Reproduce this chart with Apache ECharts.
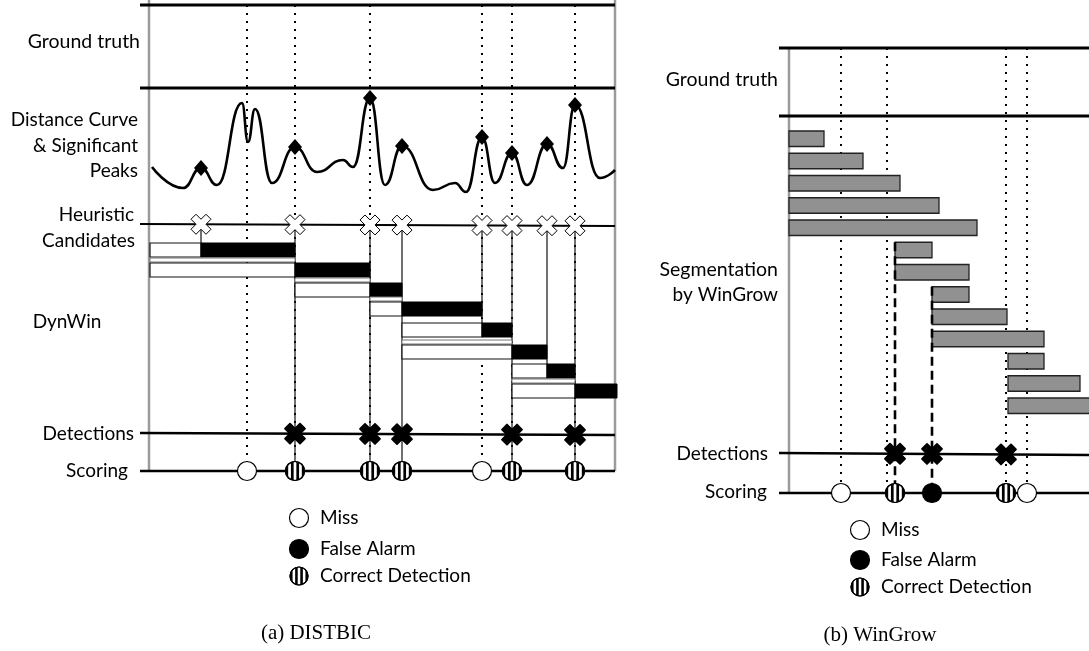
<!DOCTYPE html>
<html>
<head>
<meta charset="utf-8">
<script src="https://cdn.jsdelivr.net/npm/echarts@6/dist/echarts.min.js"></script>
<style>
  html, body { margin: 0; padding: 0; background: #fff; }
  #chart { width: 1089px; height: 651px; }
</style>
</head>
<body>
<div id="chart"></div>
<script>
// ===== (a) DISTBIC — positions along the time axis, in frames =====
const truthA = [98, 146, 221, 333, 363, 426];
// distance curve: [frame, distance]
const distanceCurve = [
  [3, 0.33], [34, 0.12], [52, 0.32], [68, 0.15], [93, 0.97], [99, 0.58],
  [106, 0.91], [123, 0.17], [146, 0.53], [168, 0.28], [194, 0.40], [204, 0.33],
  [221, 1.02], [236, 0.15], [253, 0.54], [284, 0.10], [306, 0.17], [317, 0.08],
  [333, 0.63], [346, 0.17], [363, 0.47], [378, 0.15], [398, 0.56], [414, 0.32],
  [426, 0.95], [451, 0.22], [466, 0.30]
];
const peaksA = [52, 146, 221, 253, 333, 363, 398, 426];
const candidatesA = [52, 146, 221, 253, 333, 363, 398, 426];
// DynWin windows: [start, tested split, end]
const dynWinRows = [
  [1, 52, 146], [1, 146, 221], [146, 221, 253], [221, 253, 333],
  [253, 333, 363], [253, 363, 398], [363, 398, 426], [363, 426, 468]
];
const dynWinGrown = [false, true, true, true, false, true, false, true];
const detectionsA = [146, 221, 253, 363, 426];
const scoringA = [[98, 'miss'], [146, 'hit'], [221, 'hit'], [253, 'hit'], [333, 'miss'], [363, 'hit'], [426, 'hit']];

// ===== (b) WinGrow =====
const truthB = [52, 98, 217, 238];
// growing windows: [start, end]
const winGrowRows = [
  [0, 35], [0, 74], [0, 111], [0, 150], [0, 188],
  [106, 143], [106, 180], [143, 180], [143, 218], [143, 255],
  [219, 255], [219, 291], [219, 305]
];
const detectionsB = [106, 143, 217];
// segment boundaries found by WinGrow: [frame, window row]
const boundariesB = [[106, 5], [143, 7]];
const scoringB = [[52, 'miss'], [106, 'hit'], [143, 'fa'], [217, 'hit'], [238, 'miss']];

// ===== layout =====
const LA = { left: 149, span: 466, gutter: 9, top: 5, gtBottom: 88, heur: [224, 226], det: [433, 435],
  score: 471, borderTop: 0, rightBorder: true,
  rowTops: [243, 263, 283, 302, 323, 345, 364, 384], rowH: 14 };
const LB = { left: 789, span: 300, gutter: 10, top: 48, gtBottom: 116, heur: null, det: [453, 455],
  score: 493, borderTop: 48, rightBorder: false, rowTop0: 131, rowStep: 22.25, rowH: 15.5 };
const FONT = 'Lato, "Open Sans", sans-serif';
const X_PATH = 'path://M2.5,0 L5,2.5 L7.5,0 L10,2.5 L7.5,5 L10,7.5 L7.5,10 L5,7.5 L2.5,10 L0,7.5 L2.5,5 L0,2.5 Z';

function laneY(lane, t, L) {
  if (!Array.isArray(lane)) return lane;
  const f = (t + L.gutter) / (L.span + L.gutter);
  return lane[0] + (lane[1] - lane[0]) * f;
}
function seg(a, b, stroke, w, dash) {
  return { type: 'line', shape: { x1: a[0], y1: a[1], x2: b[0], y2: b[1] },
    style: { stroke: stroke, lineWidth: w, lineDash: dash || null } };
}
function markerShapes(kind, cx, cy, r) {
  const out = [{ type: 'circle', shape: { cx: cx, cy: cy, r: r },
    style: { fill: kind === 'fa' ? '#000' : '#fff', stroke: '#000', lineWidth: 1.2 } }];
  if (kind === 'hit') {
    const n = 7, w = 2 * r / n;
    for (let i = 0; i < n; i += 2) {
      const a = -r + i * w, b = a + w;
      const top = [], bot = [];
      for (let k = 0; k <= 6; k++) {
        const x = a + (b - a) * k / 6;
        const h = Math.sqrt(Math.max(0, r * r - x * x));
        top.push([cx + x, cy - h]);
        bot.unshift([cx + x, cy + h]);
      }
      out.push({ type: 'polygon', shape: { points: top.concat(bot) }, style: { fill: '#000' } });
    }
    out.push({ type: 'circle', shape: { cx: cx, cy: cy, r: r }, style: { fill: 'none', stroke: '#000', lineWidth: 1.2 } });
  }
  return out;
}

// frame: borders and lane lines of one panel
function frameRenderer(L) {
  return function (params, api) {
    const p = (t, y) => api.coord([t, y]);
    const tS = -L.gutter, tE = L.span;
    const ch = [seg(p(0, L.borderTop), p(0, L.score), '#9b9b9b', 2.5)];
    if (L.rightBorder) ch.push(seg(p(tE, L.borderTop), p(tE, L.score), '#9b9b9b', 2.5));
    [[L.top, 3], [L.gtBottom, 3], [L.heur, 2], [L.det, 2.5], [L.score, 2.5]].forEach(function (d) {
      if (d[0] == null) return;
      ch.push(seg(p(tS, laneY(d[0], tS, L)), p(tE, laneY(d[0], tE, L)), '#000', d[1]));
    });
    return { type: 'group', children: ch };
  };
}
function truthRenderer(L) {
  return function (params, api) {
    const t = api.value(0);
    return seg(api.coord([t, L.top]), api.coord([t, L.score]), '#000', 2, [2, 6]);
  };
}
function scoringRenderer(L, list) {
  return function (params, api) {
    const c = api.coord([api.value(0), L.score]);
    return { type: 'group', children: markerShapes(list[params.dataIndex][1], c[0], c[1], 9.5) };
  };
}
const rowTopB = i => LB.rowTop0 + i * LB.rowStep;

const base = { coordinateSystem: 'cartesian2d', silent: true, clip: false, animation: false };
const blackX = { color: '#000', borderColor: '#000', borderWidth: 1.8, borderJoin: 'round', opacity: 1 };

const option = {
  animation: false,
  backgroundColor: '#fff',
  grid: [
    { left: LA.left, top: 0, width: LA.span, height: 651, containLabel: false, outerBoundsMode: 'none' },
    { left: LB.left, top: 0, width: LB.span, height: 651, containLabel: false, outerBoundsMode: 'none' },
    { left: LA.left, top: 90, width: LA.span, height: 110, containLabel: false, outerBoundsMode: 'none' }
  ],
  xAxis: [
    { type: 'value', gridIndex: 0, min: 0, max: LA.span, show: false },
    { type: 'value', gridIndex: 1, min: 0, max: LB.span, show: false },
    { type: 'value', gridIndex: 2, min: 0, max: LA.span, show: false }
  ],
  yAxis: [
    { type: 'value', gridIndex: 0, min: 0, max: 651, inverse: true, show: false },
    { type: 'value', gridIndex: 1, min: 0, max: 651, inverse: true, show: false },
    { type: 'value', gridIndex: 2, min: 0, max: 1.1, show: false }
  ],
  series: [
    // ---------- (a) ----------
    Object.assign({ type: 'custom', name: 'frameA', xAxisIndex: 0, yAxisIndex: 0, z: 1,
      data: [[0, 0]], renderItem: frameRenderer(LA) }, base),
    Object.assign({ type: 'custom', name: 'truthA', xAxisIndex: 0, yAxisIndex: 0, z: 2,
      data: truthA.map(t => [t]), renderItem: truthRenderer(LA) }, base),
    Object.assign({ type: 'custom', name: 'candidateDrops', xAxisIndex: 0, yAxisIndex: 0, z: 3,
      data: candidatesA.map(t => [t]),
      renderItem: function (params, api) {
        const t = api.value(0);
        let yEnd = LA.score;
        if (detectionsA.indexOf(t) < 0) {
          const r = dynWinRows.findIndex(w => w[1] === t);
          yEnd = LA.rowTops[r];
        }
        return seg(api.coord([t, laneY(LA.heur, t, LA)]), api.coord([t, yEnd]), '#111', 1.2);
      } }, base),
    Object.assign({ type: 'custom', name: 'DynWin', xAxisIndex: 0, yAxisIndex: 0, z: 4,
      data: dynWinRows,
      renderItem: function (params, api) {
        const i = params.dataIndex;
        const s = api.value(0), m = api.value(1), e = api.value(2);
        const top = LA.rowTops[i], h = LA.rowH;
        const a = api.coord([s, top]), b = api.coord([m, top]), c = api.coord([e, top]);
        const ch = [];
        if (dynWinGrown[i]) {
          ch.push({ type: 'rect', shape: { x: a[0], y: top - 5, width: b[0] - a[0], height: 4 },
            style: { fill: '#fff', stroke: '#777', lineWidth: 1 } });
        }
        ch.push({ type: 'rect', shape: { x: a[0], y: a[1], width: b[0] - a[0], height: h },
          style: { fill: '#fff', stroke: '#111', lineWidth: 1.2 } });
        ch.push({ type: 'rect', shape: { x: b[0], y: b[1], width: c[0] - b[0], height: h },
          style: { fill: '#000', stroke: '#000', lineWidth: 1 } });
        return { type: 'group', children: ch };
      } }, base),
    {
      type: 'line', name: 'distance', xAxisIndex: 2, yAxisIndex: 2, z: 5, silent: true, clip: false,
      smooth: 0.5, smoothMonotone: 'x', showAllSymbol: true, symbol: 'none',
      lineStyle: { color: '#000', width: 2.6 }, itemStyle: { color: '#000' },
      data: distanceCurve.map(d => ({ value: d,
        symbol: peaksA.indexOf(d[0]) >= 0 ? 'diamond' : 'none', symbolSize: [14, 16] }))
    },
    {
      type: 'scatter', name: 'candidates', xAxisIndex: 0, yAxisIndex: 0, z: 6, silent: true,
      symbol: X_PATH, symbolSize: 20,
      itemStyle: { color: '#fff', borderColor: '#000', borderWidth: 1, borderJoin: 'round', opacity: 1 },
      data: candidatesA.map(t => [t, laneY(LA.heur, t, LA)])
    },
    {
      type: 'scatter', name: 'detectionsA', xAxisIndex: 0, yAxisIndex: 0, z: 6, silent: true,
      symbol: X_PATH, symbolSize: 20, itemStyle: blackX,
      data: detectionsA.map(t => [t, laneY(LA.det, t, LA)])
    },
    Object.assign({ type: 'custom', name: 'scoringA', xAxisIndex: 0, yAxisIndex: 0, z: 7,
      data: scoringA.map(d => [d[0]]), renderItem: scoringRenderer(LA, scoringA) }, base),

    // ---------- (b) ----------
    Object.assign({ type: 'custom', name: 'frameB', xAxisIndex: 1, yAxisIndex: 1, z: 1,
      data: [[0, 0]], renderItem: frameRenderer(LB) }, base),
    Object.assign({ type: 'custom', name: 'truthB', xAxisIndex: 1, yAxisIndex: 1, z: 2,
      data: truthB.map(t => [t]), renderItem: truthRenderer(LB) }, base),
    Object.assign({ type: 'custom', name: 'WinGrow', xAxisIndex: 1, yAxisIndex: 1, z: 4,
      data: winGrowRows,
      renderItem: function (params, api) {
        const top = rowTopB(params.dataIndex);
        const a = api.coord([api.value(0), top]), b = api.coord([api.value(1), top]);
        return { type: 'rect', shape: { x: a[0], y: a[1], width: b[0] - a[0], height: LB.rowH },
          style: { fill: '#919191', stroke: '#222', lineWidth: 1.3 } };
      } }, base),
    Object.assign({ type: 'custom', name: 'boundariesB', xAxisIndex: 1, yAxisIndex: 1, z: 5,
      data: boundariesB,
      renderItem: function (params, api) {
        const t = api.value(0), r = api.value(1);
        return seg(api.coord([t, rowTopB(r)]), api.coord([t, LB.score]), '#000', 2.6, [9, 5]);
      } }, base),
    {
      type: 'scatter', name: 'detectionsB', xAxisIndex: 1, yAxisIndex: 1, z: 6, silent: true,
      symbol: X_PATH, symbolSize: 20, itemStyle: blackX,
      data: detectionsB.map(t => [t, laneY(LB.det, t, LB)])
    },
    Object.assign({ type: 'custom', name: 'scoringB', xAxisIndex: 1, yAxisIndex: 1, z: 7,
      data: scoringB.map(d => [d[0]]), renderItem: scoringRenderer(LB, scoringB) }, base)
  ],
  graphic: []
};

// ----- text labels -----
function label(text, x, y, align, size, family) {
  return { type: 'text', x: x, y: y, silent: true, z: 10,
    style: { text: text, fill: '#000', font: (size || 19) + 'px ' + (family || FONT),
      align: align || 'right', verticalAlign: 'middle',
      textAlign: align || 'right', textVerticalAlign: 'middle' } };
}
const SERIF = '"Liberation Serif", "Times New Roman", serif';
const labels = [
  label('Ground truth', 140, 42, 'right', 19.5), label('Distance Curve', 138, 120), label('& Significant', 138, 146),
  label('Peaks', 138, 171), label('Heuristic', 134, 215), label('Candidates', 135, 241),
  label('DynWin', 67, 322, 'center'), label('Detections', 134, 434), label('Scoring', 128, 471),
  label('Ground truth', 778, 80, 'right', 19.5), label('Segmentation', 778, 270, 'right', 19.5), label('by WinGrow', 778, 295),
  label('Detections', 768, 454), label('Scoring', 767, 492),
  label('(a) DISTBIC', 316, 633, 'center', 21, SERIF),
  label('(b) WinGrow', 880, 635, 'center', 21, SERIF)
];
// ----- legends -----
const legendItems = [['miss', 'Miss'], ['fa', 'False Alarm'], ['hit', 'Correct Detection']];
function legend(x, ys) {
  const out = [];
  legendItems.forEach(function (it, i) {
    out.push({ type: 'group', silent: true, z: 10, children: markerShapes(it[0], x, ys[i], it[0] === 'hit' ? 9 : 9.5) });
    out.push(label(it[1], x + 21, ys[i], 'left', 19));
  });
  return out;
}
option.graphic = labels.concat(legend(299, [518, 549, 576]), legend(860, [530, 560, 587]));

const chart = echarts.init(document.getElementById('chart'), null, { renderer: 'canvas' });
chart.setOption(option);
</script>
</body>
</html>
